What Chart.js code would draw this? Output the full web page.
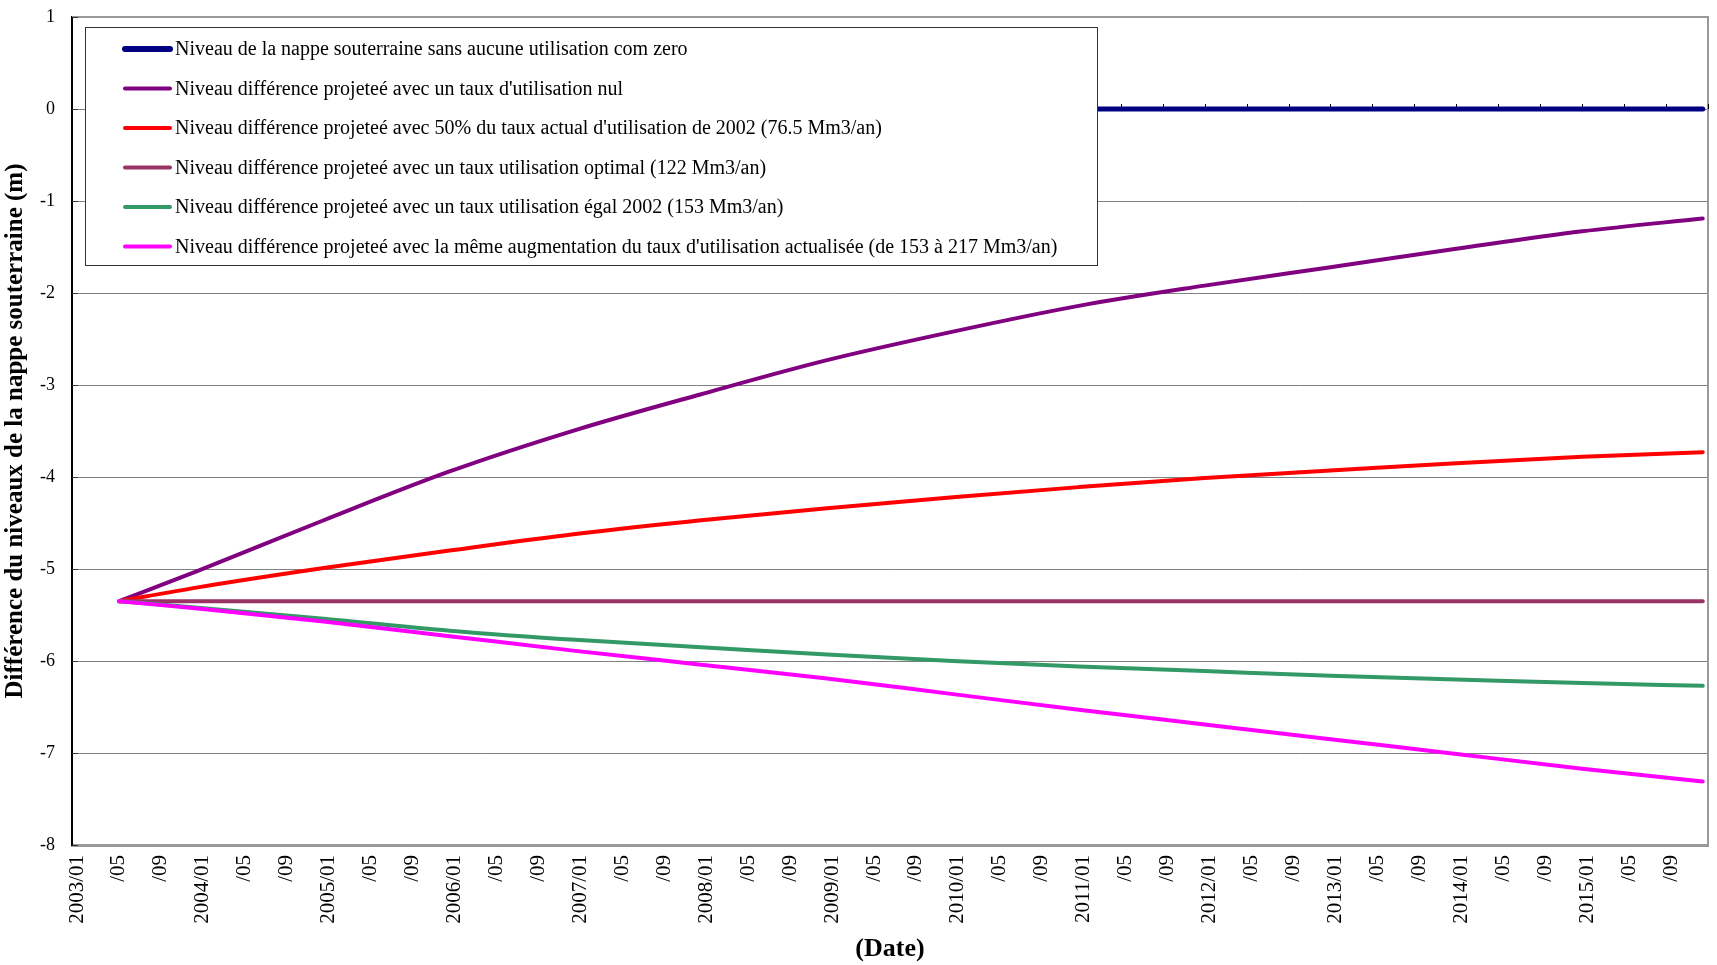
<!DOCTYPE html>
<html lang="fr">
<head>
    <meta charset="UTF-8">
    <title>Différence du niveaux de la nappe souterraine</title>
    <script src="https://cdn.jsdelivr.net/npm/chart.js"></script>
    <style>
        body { margin: 0; background: #fff; }
        canvas { display: block; }
    </style>
</head>
<body>
    <canvas id="nappeChart" width="1717" height="965"></canvas>
    <script>
        // month index counted from 2003/01 (0) up to 2016/01 (156)
        const months = [4.5, 12, 24, 36, 48, 60, 72, 84, 96, 108, 120, 132, 144, 155.5];

        const zeroLevel   = [0, 0, 0, 0, 0, 0, 0, 0, 0, 0, 0, 0, 0, 0];
        const tauxNul     = [-5.35, -5.02, -4.47, -3.94, -3.49, -3.10, -2.73, -2.42, -2.14, -1.92, -1.72, -1.52, -1.33, -1.19];
        const taux50      = [-5.35, -5.20, -4.99, -4.80, -4.62, -4.47, -4.34, -4.22, -4.11, -4.01, -3.93, -3.85, -3.78, -3.73];
        const tauxOptimal = [-5.35, -5.35, -5.35, -5.35, -5.35, -5.35, -5.35, -5.35, -5.35, -5.35, -5.35, -5.35, -5.35, -5.35];
        const tauxEgal    = [-5.35, -5.42, -5.54, -5.67, -5.77, -5.85, -5.93, -6.00, -6.06, -6.11, -6.16, -6.20, -6.24, -6.27];
        const tauxAugm    = [-5.35, -5.43, -5.57, -5.73, -5.89, -6.04, -6.19, -6.36, -6.53, -6.69, -6.85, -7.01, -7.17, -7.31];

        const seriesLabels = [
            "Niveau de la nappe souterraine sans aucune utilisation com zero",
            "Niveau différence projeteé avec un taux d'utilisation nul",
            "Niveau différence projeteé avec 50% du taux actual d'utilisation de 2002 (76.5 Mm3/an)",
            "Niveau différence projeteé avec un taux utilisation optimal (122 Mm3/an)",
            "Niveau différence projeteé avec un taux utilisation égal 2002 (153 Mm3/an)",
            "Niveau différence projeteé avec la même augmentation du taux d'utilisation actualisée (de 153 à 217 Mm3/an)"
        ];
        const seriesValues = [zeroLevel, tauxNul, taux50, tauxOptimal, tauxEgal, tauxAugm];
        const seriesColors = ['#000080', '#800080', '#FF0000', '#993366', '#339966', '#FF00FF'];
        const seriesWidths = [5, 4, 4, 4, 4, 4];

        const yMin = -8, yMax = 1;
        const xMax = 156;

        function monthLabel(v) {
            if (v >= xMax) return '';
            const m = v % 12;
            if (m === 0) return (2003 + v / 12) + '/01';
            return '/' + String(m + 1).padStart(2, '0');
        }

        const datasets = seriesValues.map((vals, i) => ({
            label: seriesLabels[i],
            data: vals.map((y, j) => ({ x: months[j], y: y })),
            borderColor: seriesColors[i],
            backgroundColor: seriesColors[i],
            borderWidth: seriesWidths[i],
            borderCapStyle: 'round',
            pointRadius: 0,
            cubicInterpolationMode: 'monotone',
            fill: false,
            order: seriesValues.length - 1 - i
        }));

        // frame, inward ticks on the y axis, ticks along the zero line
        const framePlugin = {
            id: 'frame',
            beforeDatasetsDraw(chart) {
                const { ctx, chartArea: a, scales } = chart;
                ctx.save();
                ctx.strokeStyle = '#999';
                ctx.lineWidth = 2;
                ctx.beginPath();
                ctx.moveTo(a.left, a.top);
                ctx.lineTo(a.right, a.top);
                ctx.lineTo(a.right, a.bottom);
                ctx.stroke();
                ctx.strokeStyle = '#333';
                ctx.lineWidth = 1;
                for (let v = yMin; v <= yMax; v++) {
                    const y = Math.round(scales.y.getPixelForValue(v)) + 0.5;
                    ctx.beginPath();
                    ctx.moveTo(a.left, y);
                    ctx.lineTo(a.left + 6, y);
                    ctx.stroke();
                }
                const y0 = scales.y.getPixelForValue(0);
                ctx.strokeStyle = '#000';
                for (let m = 0; m <= xMax; m += 4) {
                    const x = Math.round(scales.x.getPixelForValue(m)) + 0.5;
                    ctx.beginPath();
                    ctx.moveTo(x, y0);
                    ctx.lineTo(x, y0 - 5);
                    ctx.stroke();
                }
                ctx.restore();
            }
        };

        const boxLegendPlugin = {
            id: 'boxLegend',
            afterDraw(chart) {
                const { ctx } = chart;
                const bx = 85, by = 27, bw = 1012, bh = 238;
                ctx.save();
                ctx.fillStyle = '#fff';
                ctx.fillRect(bx, by, bw, bh);
                ctx.strokeStyle = '#333';
                ctx.lineWidth = 1;
                ctx.strokeRect(bx + 0.5, by + 0.5, bw, bh);
                ctx.font = '20px "Liberation Serif", "Times New Roman", serif';
                ctx.textBaseline = 'middle';
                chart.data.datasets.forEach((ds, i) => {
                    const y = by + 22 + i * 39.5;
                    ctx.strokeStyle = ds.borderColor;
                    ctx.lineWidth = i === 0 ? 6 : 4;
                    ctx.lineCap = 'round';
                    ctx.beginPath();
                    ctx.moveTo(125, y);
                    ctx.lineTo(170, y);
                    ctx.stroke();
                    ctx.fillStyle = '#000';
                    ctx.fillText(ds.label, 175, y + 1);
                });
                ctx.restore();
            }
        };

        const serif = '"Liberation Serif", "Times New Roman", serif';

        new Chart(document.getElementById('nappeChart'), {
            type: 'line',
            data: { datasets },
            plugins: [framePlugin, boxLegendPlugin],
            options: {
                responsive: false,
                animation: false,
                layout: { padding: { top: 17, right: 9, left: 0, bottom: 0 } },
                plugins: {
                    legend: { display: false },
                    tooltip: { enabled: false }
                },
                scales: {
                    x: {
                        type: 'linear',
                        min: 0,
                        max: xMax,
                        afterFit(scale) {
                            scale.height = 120;
                            scale.paddingLeft = 0;
                            scale.paddingRight = 0;
                        },
                        afterBuildTicks(scale) {
                            const t = [];
                            for (let m = 0; m <= xMax; m += 4) t.push({ value: m });
                            scale.ticks = t;
                        },
                        ticks: {
                            autoSkip: false,
                            maxRotation: 90,
                            minRotation: 90,
                            labelOffset: 5,
                            color: '#000',
                            padding: 10,
                            font: { family: serif, size: 21 },
                            callback: v => monthLabel(v)
                        },
                        grid: { display: false, drawTicks: false },
                        border: { color: '#999', width: 3 },
                        title: {
                            display: true,
                            text: '(Date)',
                            color: '#000',
                            font: { family: serif, size: 26, weight: 'bold' },
                            padding: { top: 0, bottom: 0 }
                        }
                    },
                    y: {
                        min: yMin,
                        max: yMax,
                        afterFit(scale) {
                            scale.width = 72;
                            scale.paddingTop = 0;
                            scale.paddingBottom = 0;
                        },
                        ticks: {
                            stepSize: 1,
                            color: '#000',
                            padding: 17,
                            font: { family: serif, size: 18 }
                        },
                        grid: { color: '#808080', lineWidth: 1, drawTicks: false },
                        border: { color: '#000', width: 2 },
                        title: {
                            display: true,
                            text: 'Différence du niveaux de la nappe souterraine (m)',
                            color: '#000',
                            font: { family: serif, size: 25, weight: 'bold' },
                            padding: { top: 1, bottom: 0 }
                        }
                    }
                }
            }
        });
    </script>
</body>
</html>
